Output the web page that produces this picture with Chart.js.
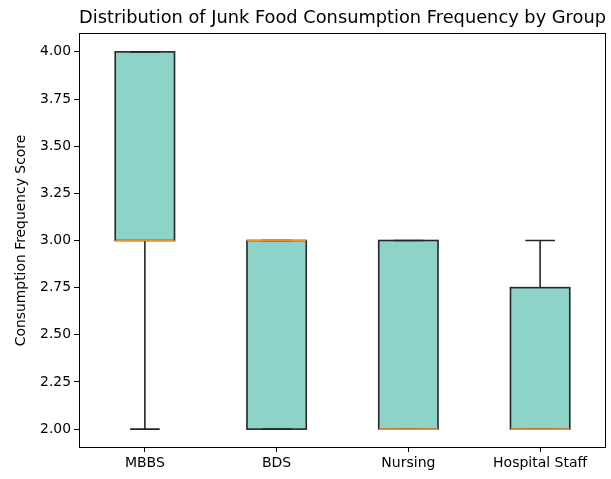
<!DOCTYPE html>
<html>
<head>
<meta charset="utf-8">
<script src="https://cdn.jsdelivr.net/npm/chart.js@4"></script>
<style>
  body { margin: 0; background: #fff; }
  #wrap { width: 611px; height: 479px; }
</style>
</head>
<body>
<div id="wrap"><canvas id="boxChart"></canvas></div>
<script>
const groups = ["MBBS", "BDS", "Nursing", "Hospital Staff"];
const mins = [2, 2, 2, 2];
const q1s = [3, 2, 2, 2];
const medians = [3, 3, 2, 2];
const q3s = [4, 3, 3, 2.75];
const maxs = [4, 3, 3, 3];
const yTicks = [2.0, 2.25, 2.5, 2.75, 3.0, 3.25, 3.5, 3.75, 4.0];

const fontFam = "'DejaVu Sans', sans-serif";
const edge = "#262626";

// box outlines, whiskers, caps, medians and the frame
const boxExtras = {
  id: "boxExtras",
  afterDatasetsDraw(chart) {
    const ctx = chart.ctx;
    const x = chart.scales.x;
    const y = chart.scales.y;
    const step = x.getPixelForValue(1) - x.getPixelForValue(0);
    const boxHalf = step * 0.45 / 2;
    const capHalf = boxHalf / 2;
    ctx.save();
    ctx.lineWidth = 1.6;
    groups.forEach((g, i) => {
      const cx = x.getPixelForValue(i);
      const yq1 = y.getPixelForValue(q1s[i]);
      const yq3 = y.getPixelForValue(q3s[i]);
      ctx.strokeStyle = edge;
      ctx.beginPath();
      // lower whisker
      ctx.moveTo(cx, yq1);
      ctx.lineTo(cx, y.getPixelForValue(mins[i]));
      ctx.moveTo(cx - capHalf, y.getPixelForValue(mins[i]));
      ctx.lineTo(cx + capHalf, y.getPixelForValue(mins[i]));
      // upper whisker
      ctx.moveTo(cx, yq3);
      ctx.lineTo(cx, y.getPixelForValue(maxs[i]));
      ctx.moveTo(cx - capHalf, y.getPixelForValue(maxs[i]));
      ctx.lineTo(cx + capHalf, y.getPixelForValue(maxs[i]));
      ctx.stroke();
      // box outline
      ctx.strokeRect(cx - boxHalf, yq3, boxHalf * 2, yq1 - yq3);
      // median
      ctx.strokeStyle = "#f28e2b";
      ctx.beginPath();
      ctx.moveTo(cx - boxHalf, y.getPixelForValue(medians[i]));
      ctx.lineTo(cx + boxHalf, y.getPixelForValue(medians[i]));
      ctx.stroke();
    });
    const a = chart.chartArea;
    ctx.strokeStyle = "#000";
    ctx.lineWidth = 1;
    ctx.strokeRect(a.left + 0.5, a.top + 0.5, a.right - a.left - 1, a.bottom - a.top - 1);
    ctx.restore();
  }
};

new Chart(document.getElementById("boxChart"), {
  type: "bar",
  data: {
    labels: groups,
    datasets: [{
      label: "IQR",
      data: groups.map((g, i) => [q1s[i], q3s[i]]),
      backgroundColor: "#8dd3c7",
      borderWidth: 0,
      categoryPercentage: 0.45,
      barPercentage: 1.0
    }]
  },
  options: {
    responsive: true,
    maintainAspectRatio: false,
    animation: false,
    layout: { padding: { left: 0, right: 5, top: 0, bottom: 0 } },
    plugins: {
      legend: { display: false },
      tooltip: { enabled: false },
      title: {
        display: true,
        fullSize: false,
        text: "Distribution of Junk Food Consumption Frequency by Group",
        color: "#000",
        font: { family: fontFam, size: 18, weight: "normal" },
        padding: { top: 8, bottom: 3.4 }
      }
    },
    scales: {
      x: {
        offset: true,
        grid: { display: true, offset: false, drawOnChartArea: false, drawTicks: true, tickLength: 4, color: "#000" },
        border: { display: false },
        ticks: { color: "#000", font: { family: fontFam, size: 14 }, padding: 3, maxRotation: 0 },
        afterFit(scale) { scale.height = 31; }
      },
      y: {
        min: 1.9,
        max: 4.1,
        afterBuildTicks(scale) { scale.ticks = yTicks.map(v => ({ value: v })); },
        grid: { display: true, drawOnChartArea: false, drawTicks: true, tickLength: 5, color: "#000" },
        border: { display: false },
        ticks: {
          color: "#000",
          font: { family: fontFam, size: 13.9 },
          padding: 3,
          callback: v => Number(v).toFixed(2)
        },
        title: {
          display: true,
          text: "Consumption Frequency Score",
          color: "#000",
          font: { family: fontFam, size: 13.9 },
          padding: { top: 13, bottom: 0 }
        },
        afterFit(scale) { scale.width = 79; }
      }
    }
  },
  plugins: [boxExtras]
});
</script>
</body>
</html>
